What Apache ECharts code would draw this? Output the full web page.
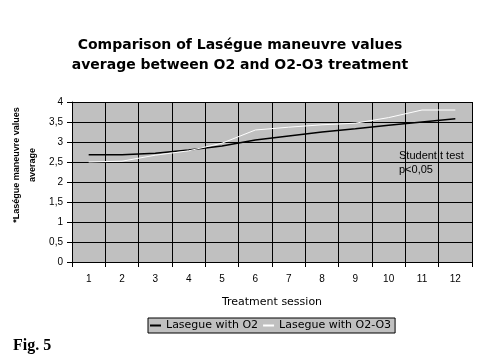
<!DOCTYPE html>
<html><head><meta charset="utf-8">
<script src="https://cdn.jsdelivr.net/npm/echarts@6/dist/echarts.min.js"></script>
<style>html,body{margin:0;padding:0;background:#fff}#c{width:480px;height:360px}</style>
</head><body><div id="c"></div>
<script>
const sessions = ['1','2','3','4','5','6','7','8','9','10','11','12'];
const lasegueO2 = [2.68, 2.68, 2.72, 2.8, 2.9, 3.05, 3.15, 3.25, 3.33, 3.42, 3.5, 3.58];
const lasegueO2O3 = [2.5, 2.52, 2.67, 2.78, 2.97, 3.3, 3.37, 3.43, 3.47, 3.61, 3.8, 3.8];
const seriesNames = ['Lasegue with O2', 'Lasegue with O2-O3'];
const titleText = 'Comparison of Laségue maneuvre values\naverage between O2 and O2-O3 treatment';
const yTitle = '*Laségue maneuvre values\naverage';
const xTitle = 'Treatment session';
const noteText = ['Student t test', 'p<0,05'];
const figText = 'Fig. 5';

const chart = echarts.init(document.getElementById('c'), null, {renderer: 'canvas'});
chart.setOption({
  backgroundColor: '#ffffff',
  animation: false,
  title: {
    text: titleText, left: 'center', top: 30,
    textStyle: {fontFamily: 'DejaVu Sans', fontWeight: 'bold', fontSize: 14, color: '#000', lineHeight: 20}
  },
  grid: {left: 72, top: 102, width: 400, height: 160, show: true, backgroundColor: '#c0c0c0', borderWidth: 0},
  legend: {
    left: 148, top: 318, orient: 'horizontal',
    backgroundColor: '#c0c0c0', borderColor: '#000', borderWidth: 1, borderRadius: 0,
    padding: [2, 4, 2, 2], itemGap: 5, itemWidth: 11, itemHeight: 2,
    textStyle: {fontFamily: 'DejaVu Sans', fontSize: 11, color: '#000'},
    data: [{name: seriesNames[0], icon: 'rect'}, {name: seriesNames[1], icon: 'rect'}]
  },
  xAxis: {
    type: 'category', data: sessions, boundaryGap: true,
    name: xTitle, nameLocation: 'middle', nameGap: 35,
    nameTextStyle: {fontFamily: 'DejaVu Sans', fontSize: 11, color: '#000'},
    axisLine: {lineStyle: {color: '#000', width: 1}},
    axisTick: {show: true, length: 5, lineStyle: {color: '#000'}},
    axisLabel: {fontFamily: 'Liberation Sans', fontSize: 10, color: '#000', margin: 12},
    splitLine: {show: true, lineStyle: {color: '#000', width: 1}}
  },
  yAxis: {
    type: 'value', min: 0, max: 4, interval: 0.5,
    axisLine: {show: true, lineStyle: {color: '#000', width: 1}},
    axisTick: {show: true, length: 5, lineStyle: {color: '#000'}},
    axisLabel: {fontFamily: 'Liberation Sans', fontSize: 10, color: '#000', margin: 9,
      formatter: v => String(v).replace('.', ',')},
    splitLine: {show: true, lineStyle: {color: '#000', width: 1}}
  },
  series: [
    {name: seriesNames[0], type: 'line', data: lasegueO2, showSymbol: false, symbol: 'none',
      lineStyle: {color: '#000', width: 1.5}, itemStyle: {color: '#000'}},
    {name: seriesNames[1], type: 'line', data: lasegueO2O3, showSymbol: false, symbol: 'none',
      lineStyle: {color: '#fff', width: 1}, itemStyle: {color: '#fff'}}
  ],
  graphic: [
    {type: 'text', x: 25, y: 165, rotation: Math.PI / 2,
      style: {text: yTitle, align: 'center', verticalAlign: 'middle', lineHeight: 16,
        font: 'bold 9px "Liberation Sans"', fill: '#000'}},
    {type: 'text', x: 399, y: 156, style: {text: noteText[0], verticalAlign: 'middle',
      font: '11px "Liberation Sans"', fill: '#000'}},
    {type: 'text', x: 399, y: 170, style: {text: noteText[1], verticalAlign: 'middle',
      font: '11px "Liberation Sans"', fill: '#000'}},
    {type: 'text', x: 13, y: 346, style: {text: figText, verticalAlign: 'middle',
      font: 'bold 16px "Liberation Serif"', fill: '#000'}}
  ]
});
</script></body></html>
